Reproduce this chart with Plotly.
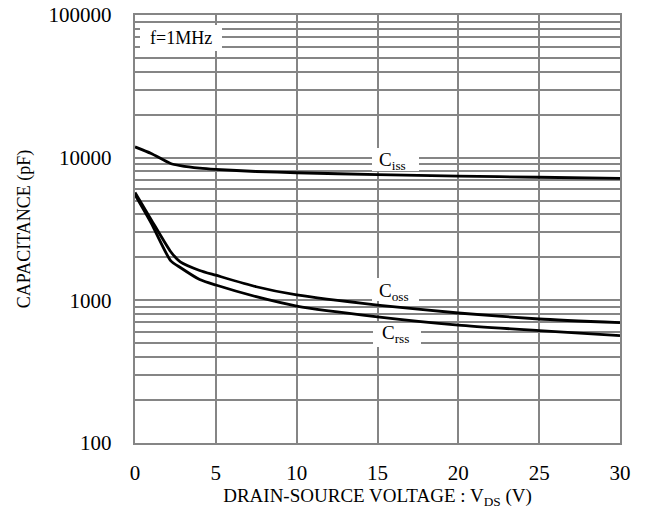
import plotly.graph_objects as go

vds = [0, 1, 2.2, 2.8, 4, 5, 7.5, 10, 15, 20, 25, 30]
ciss = [11900, 10700, 9100, 8800, 8450, 8280, 8000, 7840, 7600, 7420, 7290, 7160]
coss = [5700, 3680, 2200, 1860, 1620, 1500, 1245, 1090, 927, 815, 740, 697]
crss = [5500, 3480, 1900, 1700, 1400, 1280, 1060, 912, 767, 671, 613, 565]

y_ticks = [100, 1000, 10000, 100000]
y_ticktext = ["100", "1000", "10000", "100000"]
x_ticks = [0, 5, 10, 15, 20, 25, 30]
minor_vals = [m * 10 ** e for e in (2, 3, 4) for m in range(2, 10)]

FONT = "Liberation Serif"
GRID = "#858585"

# plot-area geometry in pixels (for label boxes)
L, R, T, B = 135, 620, 15, 443
def px(x):
    return (x - L) / (R - L)
def py(y):
    return (B - y) / (B - T)

fig = go.Figure()
for name, ys in (("Ciss", ciss), ("Coss", coss), ("Crss", crss)):
    fig.add_trace(go.Scatter(x=vds, y=ys, mode="lines", name=name,
                             line=dict(color="black", width=2.8, shape="spline", smoothing=0.6),
                             showlegend=False))

fig.update_layout(
    width=648, height=511,
    margin=dict(l=L, r=648 - R, t=T, b=511 - B),
    paper_bgcolor="white", plot_bgcolor="white",
    font=dict(family=FONT, color="black"),
)
fig.update_xaxes(
    range=[0, 30], tickvals=x_ticks, showgrid=True, gridcolor=GRID, gridwidth=1.6,
    zeroline=False, showline=True, linecolor=GRID, linewidth=2.4, mirror=True,
    ticks="", tickfont=dict(size=21, family=FONT), ticklabelstandoff=10, automargin=False,
    title=dict(text="DRAIN-SOURCE VOLTAGE : V<sub>DS</sub> (V)", font=dict(size=19, family=FONT), standoff=0),
)
fig.update_yaxes(
    type="log", range=[2, 5], tickvals=y_ticks, ticktext=y_ticktext,
    showgrid=True, gridcolor=GRID, gridwidth=1.6,
    minor=dict(tickvals=minor_vals, showgrid=True, gridcolor=GRID, gridwidth=1.6, ticks=""),
    zeroline=False, showline=True, linecolor=GRID, linewidth=2.4, mirror=True,
    ticks="", tickfont=dict(size=21, family=FONT), ticklabelstandoff=17, automargin=False,
    title=dict(text="CAPACITANCE (pF)", font=dict(size=18, family=FONT), standoff=13),
)

boxes = [(140, 222, 25, 51), (372, 419, 148, 171), (372, 419, 278, 301), (373, 421, 323, 347)]
for x0, x1, y0, y1 in boxes:
    fig.add_shape(type="rect", xref="paper", yref="paper", x0=px(x0), x1=px(x1), y0=py(y1), y1=py(y0),
                  fillcolor="white", line=dict(width=0), layer="above")

labels = [("f=1MHz", 181, 38, 18), ("C<sub>iss</sub>", 392, 161, 19),
          ("C<sub>oss</sub>", 394, 292, 19), ("C<sub>rss</sub>", 395, 334, 19)]
for text, x, y, size in labels:
    fig.add_annotation(xref="paper", yref="paper", x=px(x), y=py(y), text=text, showarrow=False,
                       xanchor="center", yanchor="middle", font=dict(family=FONT, size=size, color="black"))

fig.write_html("out.html")
